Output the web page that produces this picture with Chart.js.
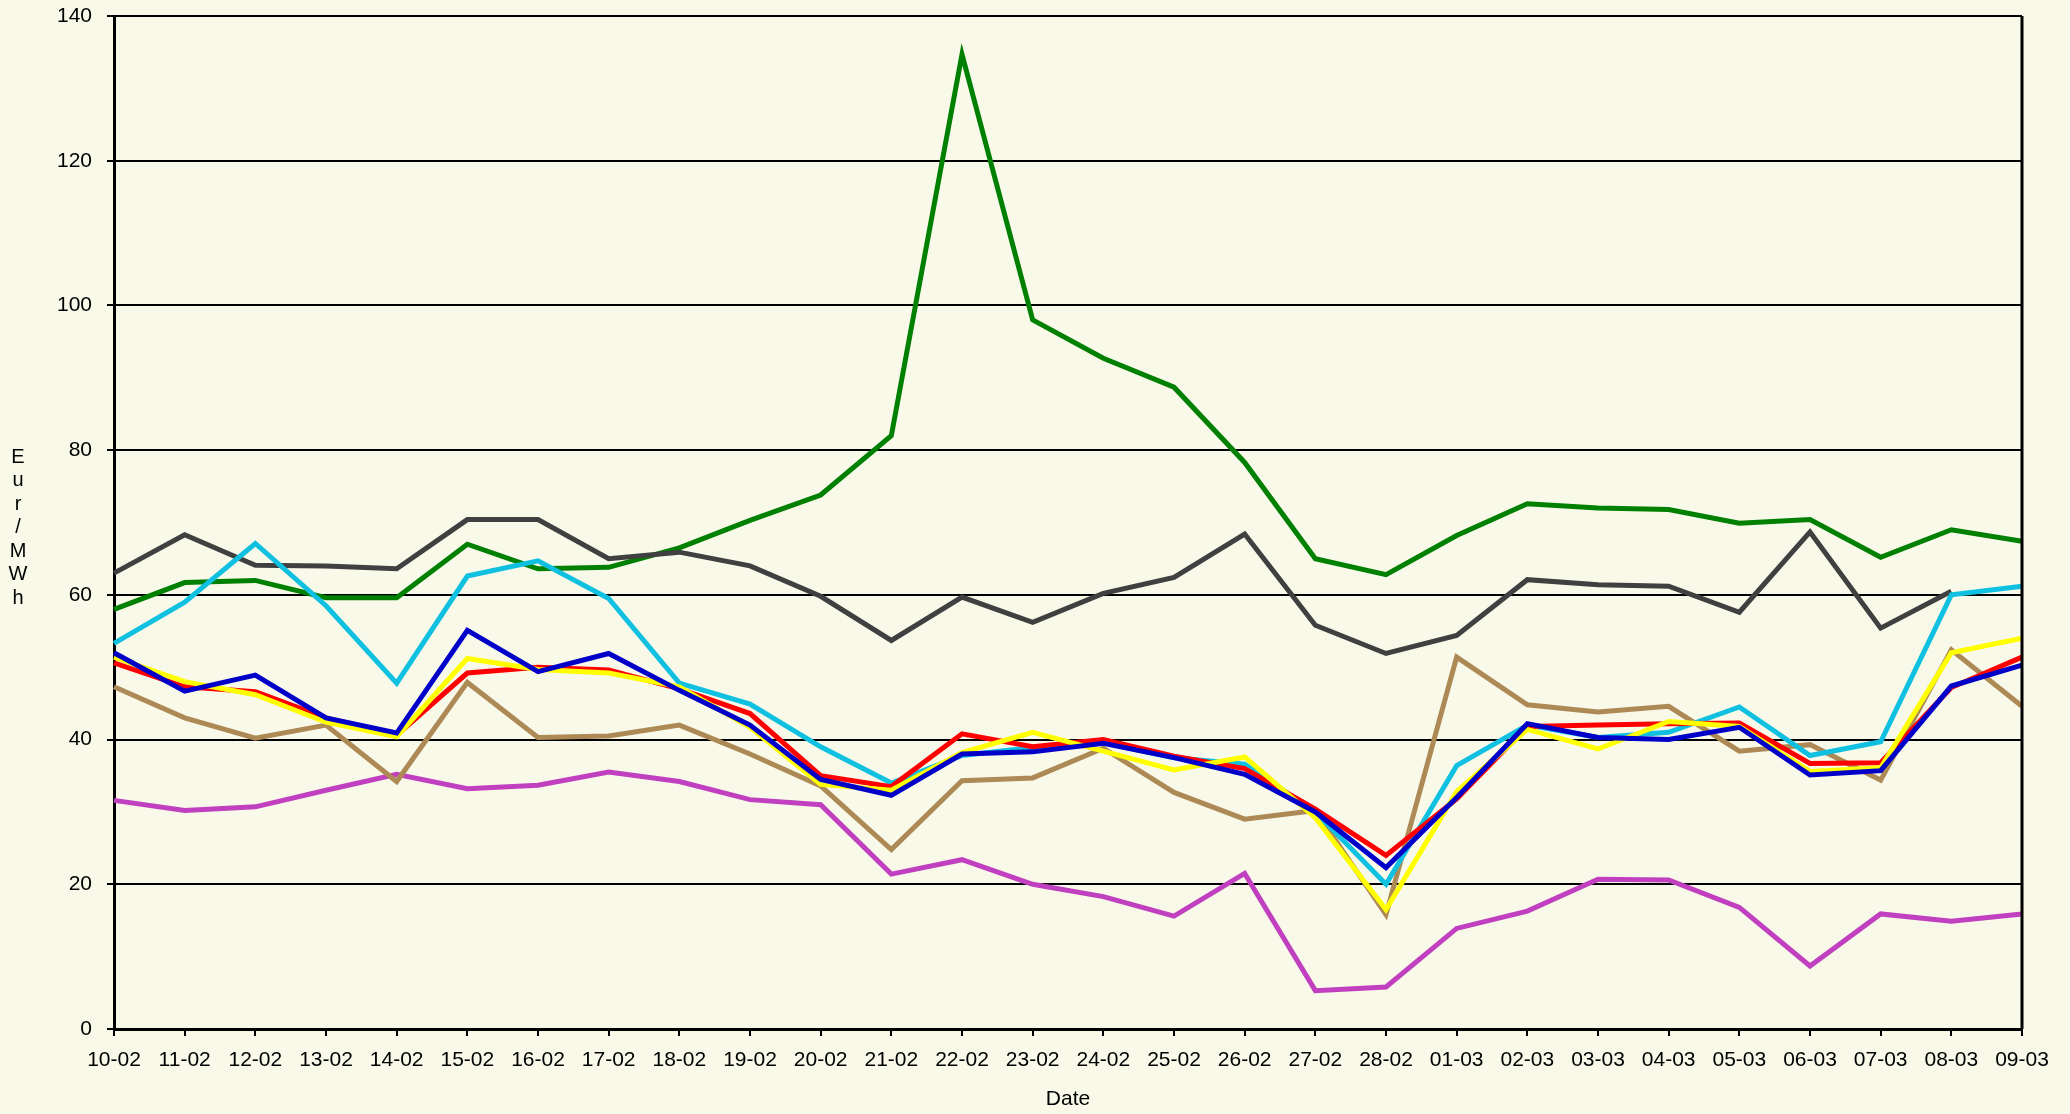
<!DOCTYPE html>
<html lang="en">
<head>
    <meta charset="UTF-8">
    <title>Eur/MWh</title>
    <script src="https://cdn.jsdelivr.net/npm/chart.js@4.4.1/dist/chart.umd.min.js"></script>
    <style>
        body { margin: 0; background: #f9f9ea; }
        #wrap { width: 2070px; height: 1114px; }
    </style>
</head>
<body>
    <div id="wrap">
        <canvas id="priceChart" width="2070" height="1114"></canvas>
    </div>

    <script>
        const dates = ['10-02', '11-02', '12-02', '13-02', '14-02', '15-02', '16-02', '17-02', '18-02', '19-02',
            '20-02', '21-02', '22-02', '23-02', '24-02', '25-02', '26-02', '27-02', '28-02', '01-03',
            '02-03', '03-03', '04-03', '05-03', '06-03', '07-03', '08-03', '09-03'];

        const greenSeries = [58, 61.7, 62, 59.6, 59.6, 67, 63.6, 63.8, 66.5, 70.3, 73.8, 82, 134.7, 98,
            92.7, 88.7, 78.3, 65, 62.8, 68.2, 72.6, 72, 71.8, 69.9, 70.4, 65.2, 69, 67.4];
        const greySeries = [63, 68.3, 64.1, 64, 63.6, 70.4, 70.4, 65, 65.9, 64, 59.8, 53.7, 59.7, 56.2,
            60.2, 62.4, 68.4, 55.8, 51.9, 54.4, 62.1, 61.4, 61.2, 57.6, 68.7, 55.4, 60.5, null];
        const cyanSeries = [53.3, 59, 67.1, 58.5, 47.8, 62.6, 64.7, 59.5, 47.8, 44.9, 39, 34, 37.8, 38.9,
            39.6, 37.5, 36.6, 30, 20, 36.4, 42, 40.3, 41, 44.5, 37.8, 39.7, 60, 61.2];
        const redSeries = [50.6, 47.3, 46.6, 43, 40.6, 49.2, 50, 49.6, 47, 43.6, 35, 33.5, 40.8, 39,
            40, 37.7, 36, 30.4, 24, 31.8, 41.8, 42, 42.2, 42.3, 36.7, 36.8, 47.2, 51.4];
        const yellowSeries = [51.4, 48, 46.2, 42.4, 40.4, 51.2, 49.7, 49.2, 47.3, 41.7, 33.8, 33, 38.2, 41,
            38.4, 35.8, 37.6, 29.2, 16.5, 32.8, 41.4, 38.7, 42.5, 41.8, 35.6, 36.1, 52, 54];
        const blueSeries = [52, 46.7, 48.9, 43, 40.9, 55.1, 49.4, 51.9, 46.8, 42, 34.5, 32.3, 38, 38.3,
            39.5, 37.5, 35.2, 30, 22.3, 32, 42.2, 40.3, 40, 41.7, 35.1, 35.7, 47.4, 50.3];
        const tanSeries = [47.3, 43, 40.2, 42, 34.2, 47.9, 40.3, 40.5, 42, 38, 33.6, 24.8, 34.3, 34.7,
            38.8, 32.7, 29, 30.2, 15.8, 51.4, 44.8, 43.8, 44.6, 38.4, 39.3, 34.4, 52.4, 44.6];
        const magentaSeries = [31.6, 30.2, 30.7, 33, 35.2, 33.2, 33.7, 35.5, 34.2, 31.7, 31, 21.4, 23.4, 20,
            18.3, 15.6, 21.5, 5.3, 5.8, 13.9, 16.3, 20.7, 20.6, 16.8, 8.7, 15.9, 14.9, 15.9];

        const yTicks = [0, 20, 40, 60, 80, 100, 120, 140];

        const FONT = '"Liberation Sans", Arial, sans-serif';

        const line = (data, color, order) => ({
            data,
            borderColor: color,
            backgroundColor: color,
            borderWidth: 5,
            pointRadius: 0,
            tension: 0,
            spanGaps: false,
            order
        });

        // fond crème + bord droit du cadre + titre vertical
        const decor = {
            id: 'decor',
            beforeDraw(chart) {
                const c = chart.ctx;
                c.save();
                c.fillStyle = '#f9f9ea';
                c.fillRect(0, 0, chart.width, chart.height);
                c.restore();
            },
            afterDraw(chart) {
                const c = chart.ctx;
                const a = chart.chartArea;
                c.save();
                c.strokeStyle = '#000';
                c.lineWidth = 3;
                c.beginPath();
                c.moveTo(a.right, a.top);
                c.lineTo(a.right, a.bottom);
                c.stroke();

                c.fillStyle = '#000';
                c.font = '20px ' + FONT;
                c.textAlign = 'center';
                c.textBaseline = 'middle';
                'Eur/MWh'.split('').forEach((ch, i) => c.fillText(ch, 18, 457 + i * 23.5));
                c.restore();
            }
        };

        new Chart(document.getElementById('priceChart'), {
            type: 'line',
            data: {
                labels: dates,
                datasets: [
                    line(blueSeries, '#0000c8', 1),
                    line(yellowSeries, '#ffff00', 2),
                    line(redSeries, '#ff0000', 3),
                    line(cyanSeries, '#10c0e0', 4),
                    line(tanSeries, '#ad8a55', 5),
                    line(magentaSeries, '#c040c0', 6),
                    line(greySeries, '#404040', 7),
                    line(greenSeries, '#008000', 8)
                ]
            },
            options: {
                responsive: false,
                animation: false,
                layout: { padding: { top: 16, right: 48, left: 0, bottom: 0 } },
                plugins: {
                    legend: { display: false },
                    tooltip: { enabled: false }
                },
                scales: {
                    x: {
                        offset: false,
                        grid: {
                            drawOnChartArea: false,
                            drawTicks: true,
                            tickLength: 7,
                            color: '#000',
                            lineWidth: 2
                        },
                        border: { color: '#000', width: 3 },
                        ticks: {
                            color: '#000',
                            font: { family: FONT, size: 21 },
                            maxRotation: 0,
                            autoSkip: false,
                            padding: 12
                        },
                        title: {
                            display: true,
                            text: 'Date',
                            color: '#000',
                            font: { family: FONT, size: 21 },
                            padding: { top: 0, bottom: 2 }
                        },
                        afterFit(scale) { scale.height = 85; }
                    },
                    y: {
                        min: 0,
                        max: 140,
                        afterBuildTicks(scale) { scale.ticks = yTicks.map(v => ({ value: v })); },
                        grid: {
                            color: '#000',
                            lineWidth: 2,
                            tickLength: 7
                        },
                        border: { color: '#000', width: 3 },
                        ticks: {
                            color: '#000',
                            font: { family: FONT, size: 21 },
                            padding: 15
                        },
                        afterFit(scale) {
                            scale.width = 114;
                            scale.paddingTop = 0;
                            scale.paddingBottom = 0;
                        }
                    }
                }
            },
            plugins: [decor]
        });
    </script>
</body>
</html>
